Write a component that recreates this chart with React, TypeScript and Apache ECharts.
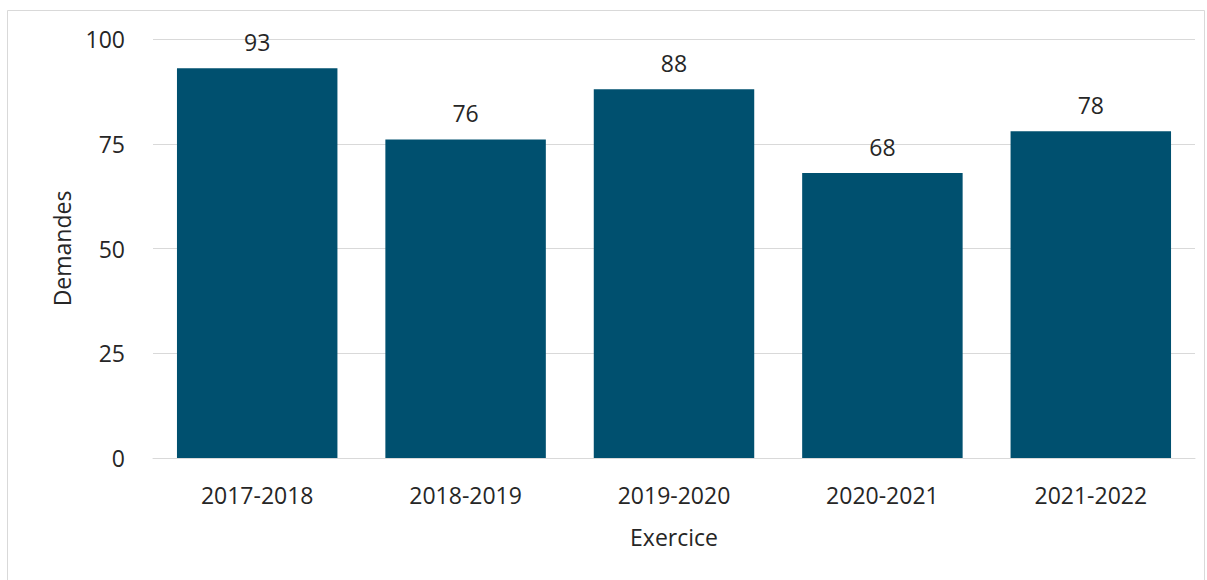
import React, { useEffect, useRef } from "react";
import * as echarts from "echarts";

const categories = ["2017-2018", "2018-2019", "2019-2020", "2020-2021", "2021-2022"];
const values = [93, 76, 88, 68, 78];
const yTicks = [0, 25, 50, 75, 100];

export default function App() {
  const ref = useRef<HTMLDivElement>(null);
  useEffect(() => {
    const chart = echarts.init(ref.current!, null, { renderer: "svg" });
    const font = "'Open Sans', 'Noto Sans', sans-serif";
    const fs = 23;
    chart.setOption({
      animation: false,
      backgroundColor: "#ffffff",
      graphic: [
        {
          type: "rect",
          shape: { x: 7.5, y: 10.5, width: 1197, height: 600 },
          style: { fill: "none", stroke: "#d9d9d9", lineWidth: 1 },
          silent: true,
        },
      ],
      grid: { left: 153, right: 12, top: 39, bottom: 122, containLabel: false },
      xAxis: {
        type: "category",
        data: categories,
        name: "Exercice",
        nameLocation: "middle",
        nameGap: 67,
        nameTextStyle: { fontFamily: font, fontSize: fs, color: "#262626" },
        axisLine: { show: true, lineStyle: { color: "#d9d9d9", width: 1 } },
        axisTick: { show: false },
        axisLabel: { fontFamily: font, fontSize: fs, color: "#262626", margin: 25 },
      },
      yAxis: {
        type: "value",
        min: 0,
        max: 100,
        interval: 25,
        name: "Demandes",
        nameLocation: "middle",
        nameGap: 80,
        nameTextStyle: { fontFamily: font, fontSize: fs, color: "#262626" },
        axisLine: { show: false },
        axisTick: { show: false },
        axisLabel: {
          fontFamily: font,
          fontSize: fs,
          color: "#262626",
          margin: 28,
          formatter: (v: number) => (yTicks.includes(v) ? String(v) : ""),
        },
        splitLine: { show: true, lineStyle: { color: "#d9d9d9", width: 1 } },
      },
      series: [
        {
          type: "bar",
          data: values,
          barCategoryGap: "23%",
          itemStyle: { color: "#00506f" },
          label: {
            show: true,
            position: "top",
            distance: 15,
            fontFamily: font,
            fontSize: fs,
            color: "#262626",
          },
        },
      ],
    });
    return () => chart.dispose();
  }, []);
  return (
    <div
      ref={ref}
      style={{ position: "absolute", left: 0, top: 0, width: 1207, height: 580 }}
    />
  );
}
